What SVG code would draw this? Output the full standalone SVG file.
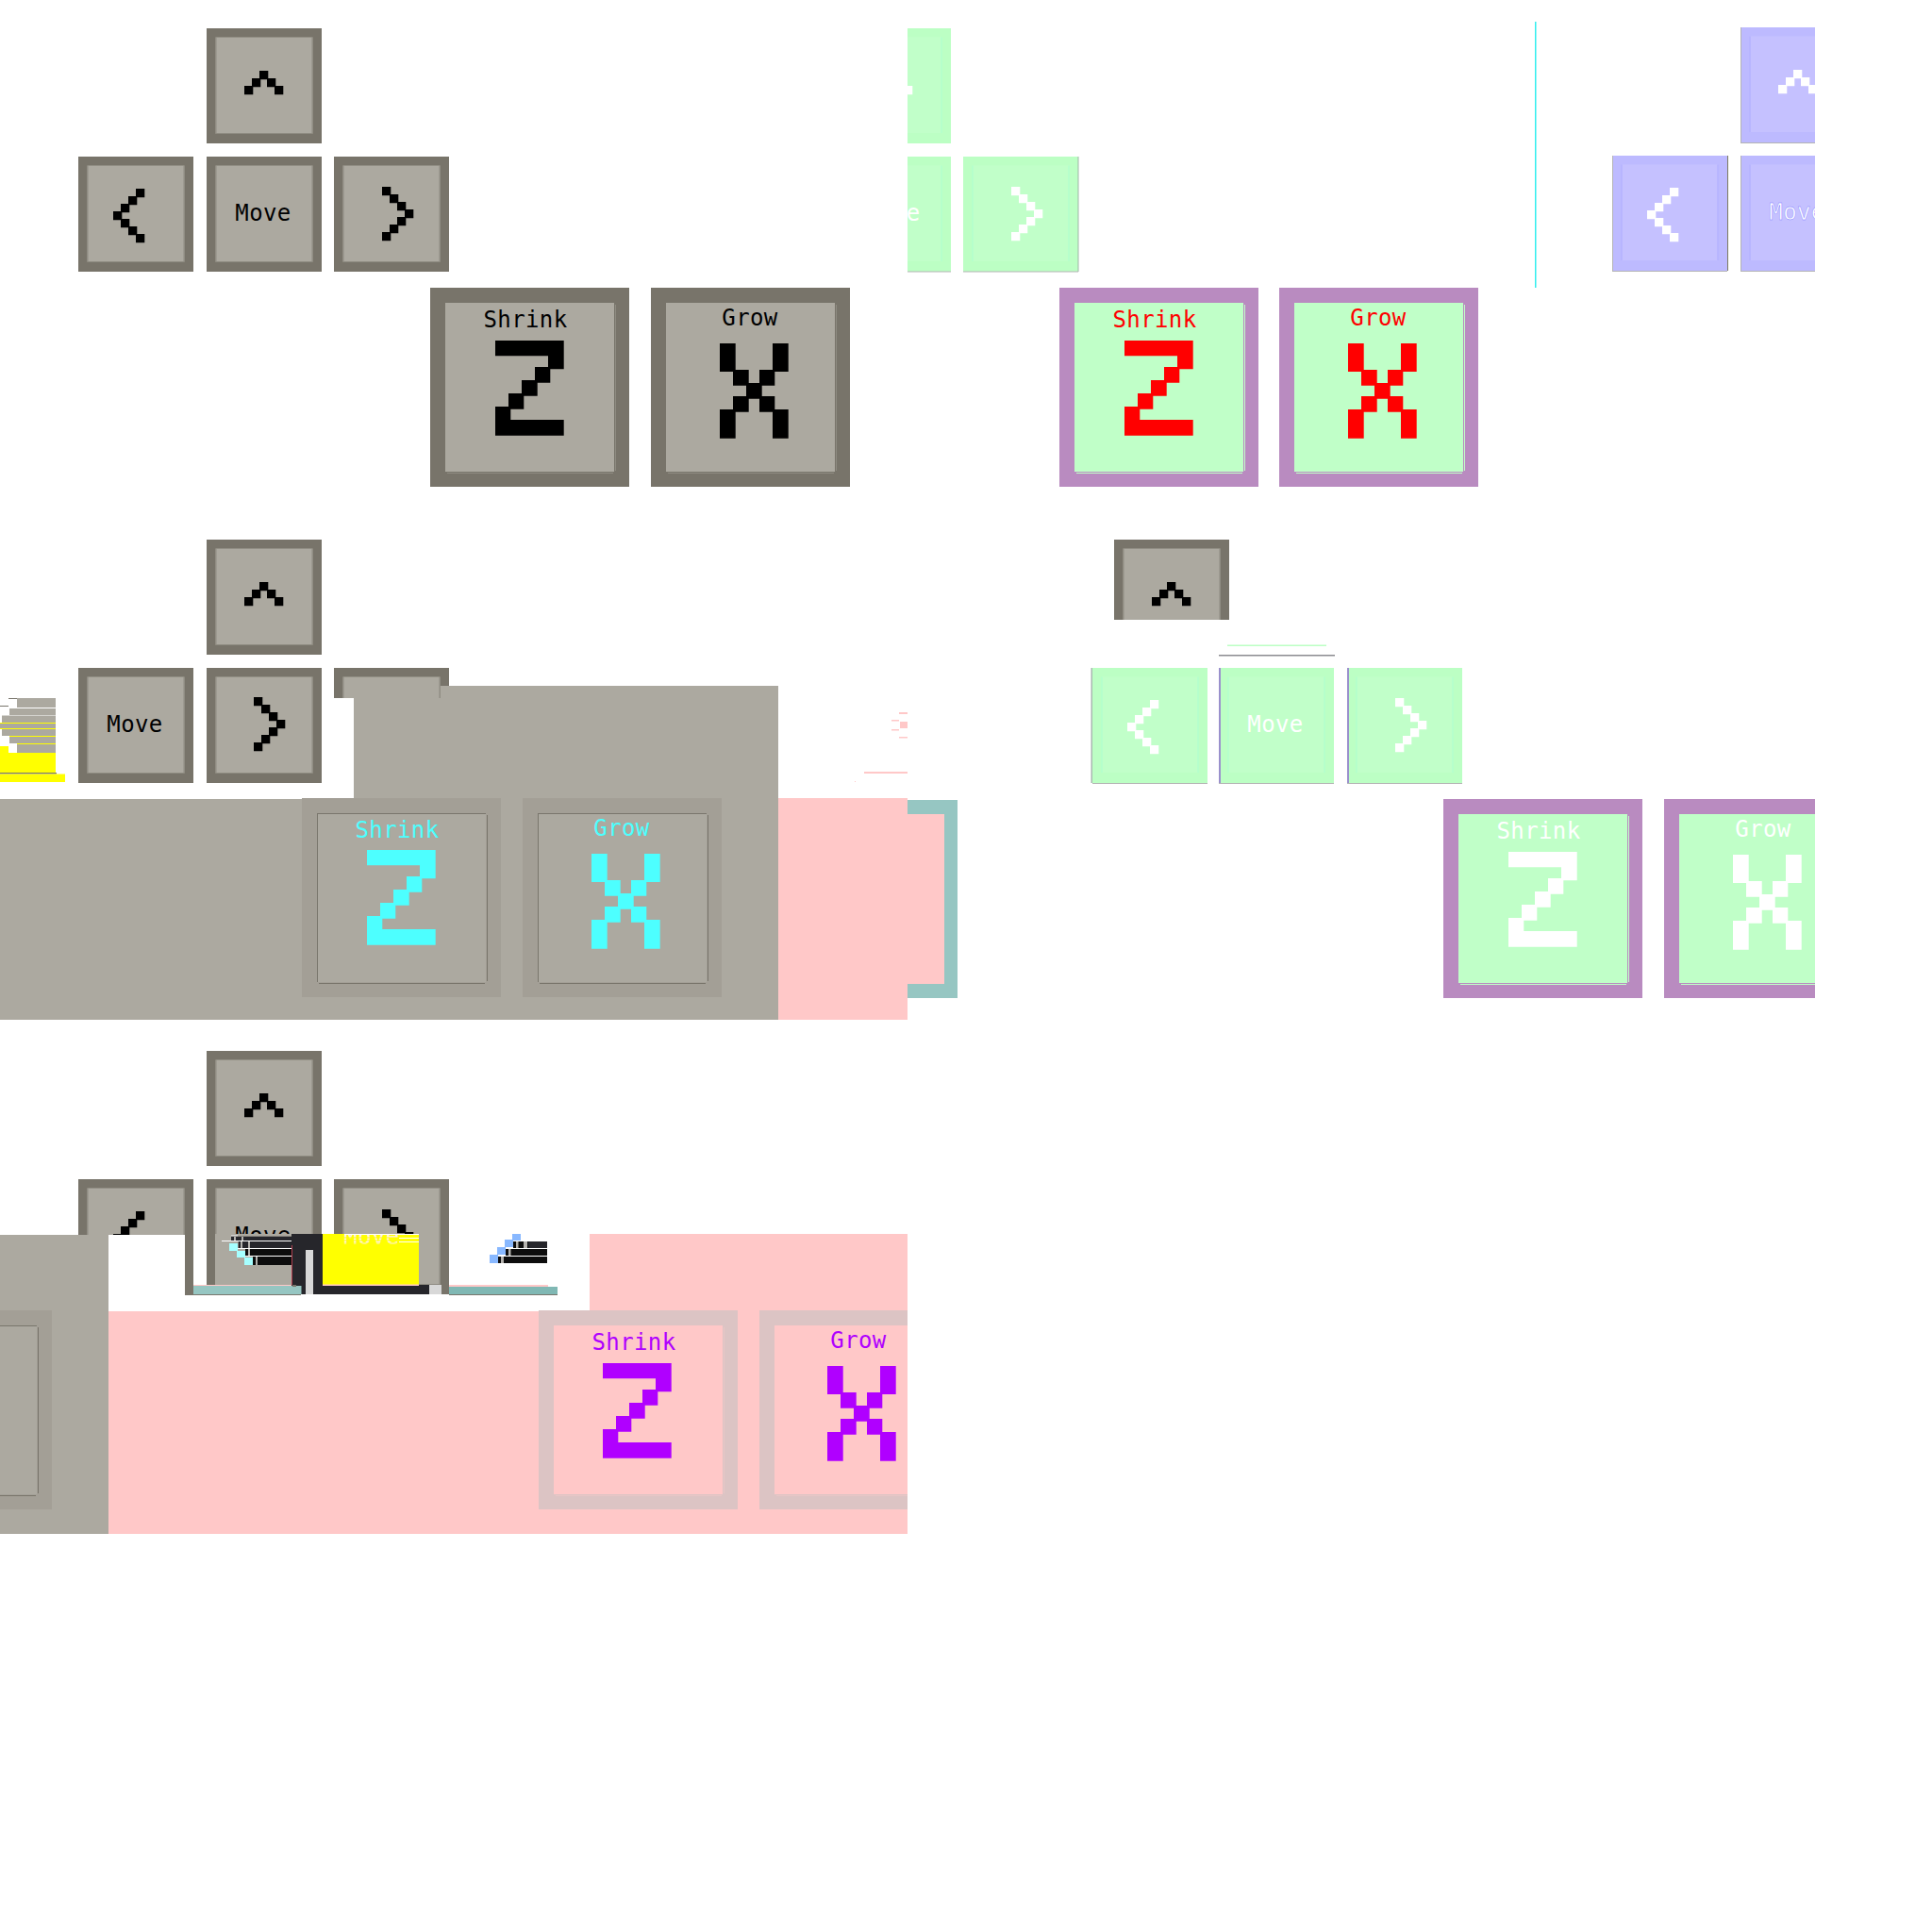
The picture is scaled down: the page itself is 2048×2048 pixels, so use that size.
<svg xmlns="http://www.w3.org/2000/svg" xmlns:xlink="http://www.w3.org/1999/xlink" width="2048" height="2048" viewBox="0 0 2048 2048">
<style>
text{font-family:"DejaVu Sans Mono","Liberation Mono",monospace;font-size:24px;letter-spacing:.4px;text-anchor:middle;fill:var(--g)}
.o{fill:var(--o)}.i{fill:var(--i)}.f{fill:var(--g)}.e{fill:var(--e)}.h{fill:var(--h)}
.grey{--o:#78746a;--i:#aca9a0;--g:#000;--e:#8e8b81;--h:#8e8b81}
.green{--o:#bcffc4;--i:#c1ffc9;--g:#fff;--e:#abffd0;--h:#bcffc4}
.violet{--o:#bdbaff;--i:#c5c1ff;--g:#fff;--e:#aeabff;--h:#bdbaff}
.pr{--o:#b98bc0;--i:#c0ffc8;--g:#f00;--e:#c0ffc8;--h:#c0ffc8}
.pw{--o:#b98bc0;--i:#c0ffc8;--g:#fff;--e:#c0ffc8;--h:#c0ffc8}
.pc{--o:#a39f96;--i:#aca9a0;--g:#4dffff;--e:#78746a;--h:#78746a}
.pp{--o:#dcc4c4;--i:#ffc8c8;--g:#b000ff;--e:#e8c6c6;--h:#e8c6c6}
.gy{fill:#aca9a0}.yl{fill:#ff0}.wh{fill:#fff}.pk{fill:#ffc8c8}.tl{fill:#96c6c2}.dk{fill:#26262b}.bk{fill:#0d0d0d}.cy{fill:#a6ffff}.bl{fill:#88b8ff}.gl{fill:#b4b2ae}.ed{fill:#79766c}
</style>
<defs>
<g id="btn"><rect class="o" width="122" height="122"/><rect class="i" x="9.5" y="9.5" width="103" height="102"/><rect class="e" x="9.500" y="9.500" width="1" height="102"/><rect class="e" x="111.500" y="9.500" width="1" height="102"/><rect class="h" x="9.500" y="111" width="103" height="1"/></g>
<g id="big"><rect class="o" width="211" height="211"/><rect class="i" x="16" y="16" width="179" height="179"/><rect class="e" x="196" y="18" width="1" height="176"/><rect class="e" x="18" y="196" width="176" height="1"/></g>
<path id="up" class="f" d="M16 0h9.3v9.3h-9.3zM8 8h9.3v9.3h-9.3zM24 8h9.3v9.3h-9.3zM0 16h9.3v9.3h-9.3zM32 16h9.3v9.3h-9.3z"/>
<path id="left" class="f" d="M24 0h9.3v9.3h-9.3zM16 8h9.3v9.3h-9.3zM8 16h9.3v9.3h-9.3zM0 24h9.3v9.3h-9.3zM8 32h9.3v9.3h-9.3zM16 40h9.3v9.3h-9.3zM24 48h9.3v9.3h-9.3z"/>
<path id="right" class="f" d="M0 0h9.3v9.3h-9.3zM8 8h9.3v9.3h-9.3zM16 16h9.3v9.3h-9.3zM24 24h9.3v9.3h-9.3zM16 32h9.3v9.3h-9.3zM8 40h9.3v9.3h-9.3zM0 48h9.3v9.3h-9.3z"/>
<path id="z" class="f" d="M0 0h72.7v30.3h-16.7v-14h-56zM42 28h16.3v16.7h-16.3zM28 42h16.7v16.7h-16.7zM14 56h16.3v16.7h-16.3zM0 70h16.3v14h56.4v16.7h-72.7z"/>
<path id="x" class="f" d="M0 0h16.7v30h-16.7zM56 0h16.7v30h-16.7zM14 28h16.7v16.7h-16.7zM42 28h16.3v16.7h-16.3zM28 42h16.7v16.7h-16.7zM14 56h16.7v16.7h-16.7zM42 56h16.3v16.7h-16.3zM0 70h16.7v30.7h-16.7zM56 70h16.7v30.7h-16.7z"/>
<clipPath id="c2"><rect x="962" y="0" width="500" height="600"/></clipPath>
<clipPath id="c3"><rect x="1500" y="0" width="424" height="320"/></clipPath>
<clipPath id="c5"><rect x="1100" y="840" width="824" height="240"/></clipPath>
<clipPath id="c5u"><rect x="1100" y="560" width="300" height="97"/></clipPath>
<clipPath id="c6"><rect x="0" y="1380" width="962" height="240"/></clipPath>
<clipPath id="c7"><rect x="0" y="1380" width="115" height="240"/></clipPath>
<clipPath id="cm"><rect x="342" y="1309" width="102" height="11"/></clipPath>
</defs>

<g id="set1" class="grey">
<g id="s1-up" transform="translate(219 30)"><use href="#btn"/><use href="#up" x="40" y="45"/></g>
<g id="s1-left" transform="translate(83 166)"><use href="#btn"/><use href="#left" x="37" y="34"/></g>
<g id="s1-move" transform="translate(219 166)"><use href="#btn"/><text x="60" y="68">Move</text></g>
<g id="s1-right" transform="translate(354 166)"><use href="#btn"/><use href="#right" x="51" y="32"/></g>
<g id="s1-shrink" transform="translate(456 305)"><use href="#big"/><text x="101" y="42">Shrink</text><use href="#z" x="69" y="56"/></g>
<g id="s1-grow" transform="translate(690 305)"><use href="#big"/><text x="105" y="40">Grow</text><use href="#x" x="73" y="59"/></g>
</g>

<g id="set2" class="green" clip-path="url(#c2)">
<g id="s2-up" transform="translate(886 30)"><use href="#btn"/><use href="#up" x="40" y="45"/></g>
<g id="s2-move" transform="translate(886 166)"><use href="#btn"/><text x="60" y="68">Move</text></g>
<g id="s2-right" transform="translate(1021 166)"><use href="#btn"/><use href="#right" x="51" y="32"/><rect x="121.500" width="1" height="122" fill="#9fb5a5"/><rect y="121.500" width="122" height="1" fill="#b4b4b4"/></g>
<rect x="962" y="287.500" width="46" height="1" fill="#b4b4b4"/>
</g>
<g id="s2-shrink" class="pr" transform="translate(1123 305)"><use href="#big"/><text x="101" y="42">Shrink</text><use href="#z" x="69" y="56"/></g>
<g id="s2-grow" class="pr" transform="translate(1356 305)"><use href="#big"/><text x="105" y="40">Grow</text><use href="#x" x="73" y="59"/></g>

<rect id="cyan-line" x="1627" y="23" width="1.5" height="282" fill="#33eeee"/>
<g id="set3" class="violet" clip-path="url(#c3)">
<g id="s3-up" transform="translate(1845 29)"><use href="#btn"/><use href="#up" x="40" y="45"/><rect width="1" height="122" fill="#b4b4b4"/><rect y="122" width="122" height="1" fill="#b4b4b4"/></g>
<g id="s3-left" transform="translate(1709 165)"><use href="#btn"/><use href="#left" x="37" y="34"/><rect width="1" height="122" fill="#b4b4b4"/><rect x="122" width="1" height="122" fill="#7c7a60"/><rect y="122" width="122" height="1" fill="#b4b4b4"/></g>
<g id="s3-move" transform="translate(1845 165)"><use href="#btn"/><text x="60" y="68" stroke="#7777ff" stroke-width="0.4">Move</text><rect width="1" height="122" fill="#b4b4b4"/><rect y="122" width="122" height="1" fill="#b4b4b4"/></g>
</g>

<g id="set4" class="grey">
<g id="s4-up" transform="translate(219 572)"><use href="#btn"/><use href="#up" x="40" y="45"/></g>
<g id="s4-move" transform="translate(83 708)"><use href="#btn"/><text x="60" y="68">Move</text></g>
<g id="s4-right" transform="translate(219 708)"><use href="#btn"/><use href="#right" x="50" y="31"/></g>
<g id="s4-third" transform="translate(354 708)"><use href="#btn"/></g>
</g>
<g id="s4-field">
<rect class="wh" x="354" y="740" width="22" height="90"/>
<path class="gy" d="M467 727H825V847H375V740H467z"/>
<rect class="gy" x="0" y="847" width="825" height="234"/>
<rect class="pk" x="825" y="846" width="137" height="235"/>
<rect class="tl" x="962" y="848" width="53" height="210"/>
<rect class="pk" x="962" y="863" width="39" height="180"/>
<path class="pk" d="M953 755h9v2h-9zM945 763h8v1.500h-8zM954 765h8v7h-8zM945 773h8v1.500h-8zM953 781h9v1.500h-9zM916 818h46v2h-46zM906 828h1v1h-1z"/>
</g>
<g id="s4-shrink" class="pc" transform="translate(320 846)"><use href="#big"/><rect class="ed" x="16" y="16" width="179" height="1"/><rect class="ed" x="16" y="16" width="1" height="179"/><text x="101" y="42">Shrink</text><use href="#z" x="69" y="55"/></g>
<g id="s4-grow" class="pc" transform="translate(554 846)"><use href="#big"/><rect class="ed" x="16" y="16" width="179" height="1"/><rect class="ed" x="16" y="16" width="1" height="179"/><text x="105" y="40">Grow</text><use href="#x" x="73" y="59"/></g>
<g id="s4-fragment">
<rect class="gy" x="18" y="740" width="41" height="10"/>
<rect class="gy" x="10" y="751" width="49" height="7"/>
<rect class="gy" x="2" y="758.500" width="57" height="7.500"/>
<rect class="yl" x="0" y="766" width="59" height="1"/>
<rect class="gy" x="0" y="767" width="59" height="5"/>
<rect class="yl" x="0" y="772" width="59" height="1"/>
<rect class="gy" x="2" y="773" width="57" height="7"/>
<rect class="yl" x="10" y="780" width="49" height="1"/>
<rect class="gy" x="10" y="781" width="49" height="7"/>
<rect class="yl" x="18" y="788" width="41" height="1"/>
<rect class="gy" x="18" y="789" width="41" height="9"/>
<rect class="yl" x="0" y="791" width="9" height="7"/>
<rect class="yl" x="0" y="798" width="59" height="21"/>
<rect x="0" y="819" width="60" height="1.500" fill="#79766c"/>
<rect class="yl" x="0" y="820.500" width="69" height="8.500"/>
<path class="ed" d="M9 740h9v1h-9zM0 748h9v1h-9z"/>
</g>

<g id="set5" class="green">
<g id="s5-up" class="grey" clip-path="url(#c5u)"><g transform="translate(1181 572)"><use href="#btn"/><use href="#up" x="40" y="45"/></g></g>
<rect x="1301" y="683.500" width="105" height="1.500" fill="#bcffc4"/>
<rect x="1292" y="694" width="123" height="1.500" fill="#8c8c90"/>
<g id="s5-left" transform="translate(1158 708)"><use href="#btn"/><use href="#left" x="37" y="34"/><rect x="-1.500" width="1.500" height="122" fill="#a8b8b0"/><rect y="122" width="122" height="1" fill="#b4b4b4"/></g>
<g id="s5-move" transform="translate(1292 708)"><use href="#btn"/><text x="60" y="68">Move</text><rect width="2" height="122" fill="#9a90cc"/><rect y="122" width="122" height="1" fill="#b4b4b4"/></g>
<g id="s5-right" transform="translate(1428 708)"><use href="#btn"/><use href="#right" x="51" y="32"/><rect width="2" height="122" fill="#9a90cc"/><rect y="122" width="122" height="1" fill="#b4b4b4"/></g>
</g>
<g id="s5-big" clip-path="url(#c5)">
<g id="s5-shrink" class="pw" transform="translate(1530 847)"><use href="#big"/><text x="101" y="42">Shrink</text><use href="#z" x="69" y="56"/></g>
<g id="s5-grow" class="pw" transform="translate(1764 847)"><use href="#big"/><text x="105" y="40">Grow</text><use href="#x" x="73" y="59"/></g>
</g>

<g id="set6" class="grey">
<g id="s6-up" transform="translate(219 1114)"><use href="#btn"/><use href="#up" x="40" y="45"/></g>
<g id="s6-left" transform="translate(83 1250)"><use href="#btn"/><use href="#left" x="37" y="34"/></g>
<g id="s6-move" transform="translate(219 1250)"><use href="#btn"/><text x="60" y="68">Move</text></g>
<g id="s6-right" transform="translate(354 1250)"><use href="#btn"/><use href="#right" x="51" y="32"/></g>
</g>
<g id="s6-field">
<rect class="gy" x="0" y="1309" width="115" height="317"/>
<rect class="wh" x="115" y="1309" width="81" height="63"/>
<rect class="gy" x="228" y="1308" width="81" height="54.500"/>
<rect class="wh" x="476" y="1309" width="149" height="63"/>
<rect class="pk" x="625" y="1308" width="337" height="82"/>
<rect class="pk" x="115" y="1390" width="847" height="236"/>
</g>
<g id="s6-panel" class="pc" clip-path="url(#c7)"><use href="#big" x="-156" y="1389"/><rect class="ed" x="-140" y="1405" width="179" height="1"/></g>
<g id="s6-shrink" class="pp" transform="translate(571 1389)"><use href="#big"/><text x="101" y="42">Shrink</text><use href="#z" x="68" y="56"/></g>
<g id="s6-grow" class="pp" clip-path="url(#c6)"><g transform="translate(805 1389)"><use href="#big"/><text x="105" y="40">Grow</text><use href="#x" x="72" y="59"/></g></g>
<g id="s6-fragments">
<rect class="pk" x="205" y="1362" width="104" height="1"/>
<rect class="dk" x="309" y="1308" width="33" height="64"/>
<rect x="309" y="1320" width="1" height="42" fill="#b04050"/>
<rect x="324" y="1325" width="8" height="47" fill="#d8d8d8"/>
<rect class="tl" x="205" y="1363" width="114.500" height="9"/>
<rect class="ed" x="310" y="1362" width="4" height="2"/>
<rect class="ed" x="196" y="1372" width="123" height="1"/>
<rect class="dk" x="342" y="1362" width="113" height="10"/>
<rect x="455" y="1362" width="13" height="10" fill="#d8d8d8"/>
<rect class="yl" x="342" y="1308" width="102" height="54.500"/>
<rect class="pk" x="342" y="1361.500" width="102" height="1.500"/>
<text x="394" y="1319" clip-path="url(#cm)" style="fill:#fff0e8">Move</text>
<path class="yl" d="M342 1311.500h102v1h-102zM342 1314.500h102v1h-102zM342 1317.500h102v1h-102z"/>
<path class="wh" d="M365 1308h79v1h-79zM423 1312h21v1h-21zM423 1316h21v1h-21z"/>
<rect class="wh" x="245" y="1309.500" width="7" height="1"/>
<rect class="dk" x="245" y="1310.700" width="64" height="4.300"/>
<rect class="wh" x="235" y="1315" width="74" height="1"/>
<rect class="dk" x="252.700" y="1316" width="56.300" height="7"/>
<rect class="wh" x="243" y="1323" width="66" height="1"/>
<rect class="bk" x="260" y="1324" width="49" height="7"/>
<rect class="wh" x="251" y="1331" width="58" height="1"/>
<rect class="bk" x="268" y="1332" width="41" height="9"/>
<path class="gl" d="M248 1311h2v4h-2zM256 1311h2v4h-2zM255 1316h2v7h-2zM263 1316h2v7h-2zM263 1324h2v7h-2zM271 1332h2v9h-2z"/>
<rect class="cy" x="243" y="1318" width="9" height="8"/>
<rect class="cy" x="251" y="1326" width="9" height="7"/>
<rect class="cy" x="259" y="1333" width="9" height="8"/>
<rect x="476" y="1364" width="115" height="8" fill="#80b8b4"/>
<rect class="pk" x="476" y="1362" width="105" height="2"/>
<rect class="ed" x="476" y="1372" width="115" height="1"/>
<rect class="bl" x="543" y="1308" width="9" height="7"/>
<rect class="bl" x="535" y="1314" width="9" height="8"/>
<rect class="bl" x="527" y="1322" width="9" height="8"/>
<rect class="bl" x="519" y="1330" width="9" height="9"/>
<rect class="dk" x="544" y="1316" width="36" height="7"/>
<rect class="bk" x="544" y="1316" width="16" height="7"/>
<rect class="bk" x="536" y="1324" width="44" height="7"/>
<rect class="bk" x="528" y="1332" width="52" height="7"/>
<path class="gl" d="M547 1316h2.500v7h-2.500zM555 1316h4v7h-4zM539 1324h2.500v7h-2.500zM531 1332h3v7h-3z"/>
</g>
<g id="connectors"/>
</svg>
